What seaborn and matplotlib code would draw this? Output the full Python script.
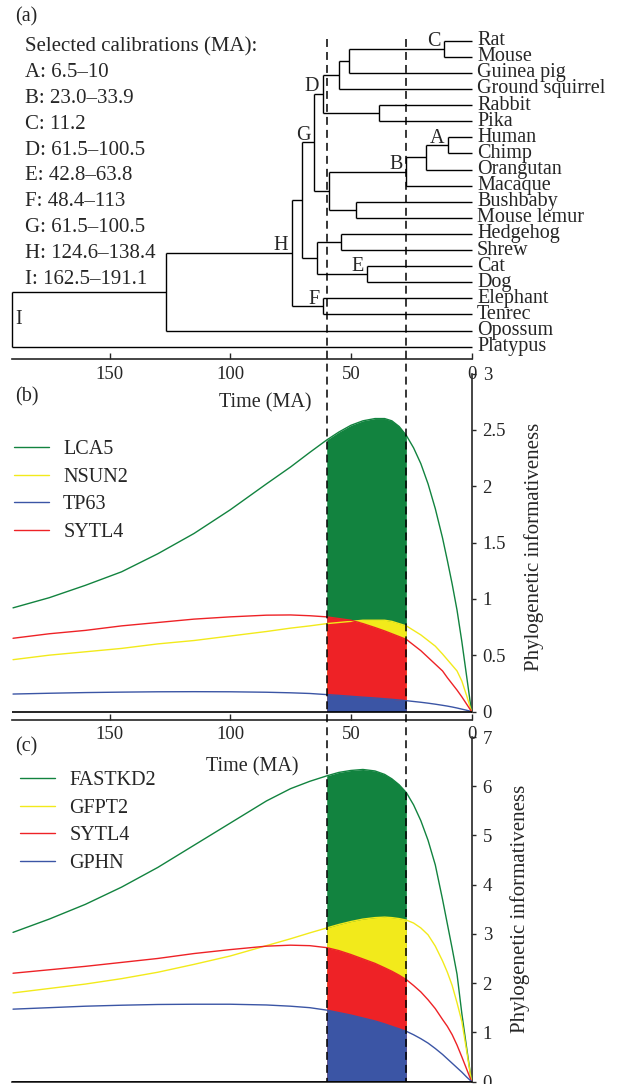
import numpy as np
import pandas as pd
import matplotlib
matplotlib.use("Agg")
import matplotlib.pyplot as plt
from matplotlib.lines import Line2D
from matplotlib.ticker import FuncFormatter
import seaborn as sns

# ---------------- data ----------------
taxa = ["Rat", "Mouse", "Guinea pig", "Ground squirrel", "Rabbit", "Pika",
        "Human", "Chimp", "Orangutan", "Macaque", "Bushbaby", "Mouse lemur",
        "Hedgehog", "Shrew", "Cat", "Dog", "Elephant", "Tenrec", "Opossum", "Platypus"]

node_names = ["RM", "RMG", "Rod", "Lag", "Gli", "HC", "HCO", "Catar", "Strep", "Prim",
              "Euarch", "Eulip", "Carn", "Laur", "Boreo", "Afro", "Euth", "Ther", "Root"]
node_left = ["Rat", "RM", "RMG", "Rabbit", "Rod", "Human", "HC", "HCO", "Bushbaby", "Catar",
             "Gli", "Hedgehog", "Cat", "Eulip", "Euarch", "Elephant", "Boreo", "Euth", "Ther"]
node_right = ["Mouse", "Guinea pig", "Ground squirrel", "Pika", "Lag", "Chimp", "Orangutan",
              "Macaque", "Mouse lemur", "Strep", "Prim", "Shrew", "Dog", "Carn", "Laur",
              "Tenrec", "Afro", "Opossum", "Platypus"]
node_ages = [11.4, 50.8, 54.8, 38.3, 61.7, 9.9, 18.9, 27.1, 48.0, 58.9,
             65.1, 54.2, 43.2, 63.9, 70.4, 61.4, 74.5, 126.7, 190.3]
node_labels = ["C", "", "", "", "D", "A", "", "B", "", "",
               "G", "", "E", "", "", "F", "H", "", "I"]

calibrations = ["Selected calibrations (MA):", "A: 6.5–10", "B: 23.0–33.9", "C: 11.2",
                "D: 61.5–100.5", "E: 42.8–63.8", "F: 48.4–113", "G: 61.5–100.5",
                "H: 124.6–138.4", "I: 162.5–191.1"]

ma = [190, 175, 160, 145, 130, 115, 100, 85, 75, 67, 60, 55, 50, 45, 40, 36, 33, 30,
      27, 24, 21, 18, 15, 12, 10, 8, 6, 4, 2, 0]

genes_b = ["LCA5", "NSUN2", "TP63", "SYTL4"]
lca5 = [0.92, 1.01, 1.12, 1.24, 1.40, 1.58, 1.79, 2.02, 2.17, 2.30, 2.41, 2.48, 2.54, 2.58,
        2.60, 2.60, 2.58, 2.53, 2.45, 2.34, 2.20, 2.02, 1.80, 1.54, 1.34, 1.13, 0.90, 0.62, 0.31, 0.0]
nsun2 = [0.46, 0.50, 0.53, 0.56, 0.60, 0.63, 0.67, 0.71, 0.74, 0.76, 0.78, 0.79, 0.80, 0.81,
         0.81, 0.81, 0.80, 0.78, 0.76, 0.72, 0.68, 0.63, 0.58, 0.51, 0.46, 0.41, 0.36, 0.27, 0.14, 0.0]
tp63 = [0.155, 0.162, 0.168, 0.172, 0.175, 0.176, 0.175, 0.171, 0.166, 0.160, 0.150, 0.143,
        0.135, 0.127, 0.120, 0.113, 0.108, 0.102, 0.096, 0.089, 0.082, 0.074, 0.065, 0.055,
        0.048, 0.040, 0.031, 0.021, 0.011, 0.0]
sytl4_b = [0.65, 0.69, 0.72, 0.76, 0.79, 0.82, 0.84, 0.855, 0.857, 0.85, 0.84, 0.825, 0.81,
           0.78, 0.745, 0.715, 0.69, 0.665, 0.64, 0.59, 0.54, 0.48, 0.42, 0.36, 0.30, 0.245,
           0.19, 0.13, 0.065, 0.0]

genes_c = ["FASTKD2", "GFPT2", "SYTL4", "GPHN"]
fastkd2 = [3.03, 3.30, 3.60, 3.95, 4.35, 4.80, 5.25, 5.70, 5.95, 6.10, 6.21, 6.28, 6.32, 6.34,
           6.31, 6.24, 6.15, 6.03, 5.87, 5.62, 5.30, 4.90, 4.40, 3.70, 3.20, 2.70, 2.18, 1.38, 0.68, 0.0]
gfpt2 = [1.80, 1.89, 1.98, 2.09, 2.22, 2.38, 2.55, 2.76, 2.90, 3.02, 3.12, 3.19, 3.25, 3.30,
         3.33, 3.34, 3.33, 3.31, 3.28, 3.22, 3.12, 2.98, 2.75, 2.45, 2.22, 1.95, 1.60, 1.22, 0.62, 0.0]
sytl4_c = [2.20, 2.27, 2.34, 2.42, 2.50, 2.60, 2.68, 2.75, 2.77, 2.76, 2.72, 2.66, 2.58, 2.49,
           2.40, 2.31, 2.24, 2.16, 2.07, 1.95, 1.82, 1.66, 1.48, 1.26, 1.12, 0.95, 0.74, 0.50, 0.25, 0.0]
gphn = [1.47, 1.50, 1.53, 1.55, 1.565, 1.57, 1.57, 1.555, 1.53, 1.50, 1.45, 1.40, 1.35, 1.29,
        1.23, 1.17, 1.12, 1.07, 1.02, 0.95, 0.87, 0.78, 0.67, 0.55, 0.46, 0.37, 0.28, 0.19, 0.09, 0.0]

window = [60, 27]
xticks = [150, 100, 50, 0]
yticks_b = [0, 0.5, 1, 1.5, 2, 2.5, 3]
yticks_c = [0, 1, 2, 3, 4, 5, 6, 7]

GREEN, YELLOW, RED, BLUE = "#12833F", "#F2EA1B", "#EE2226", "#3B55A5"
colors_b = [GREEN, YELLOW, BLUE, RED]
colors_c = [GREEN, YELLOW, RED, BLUE]

# ---------------- style ----------------
sns.set_style("ticks")
plt.rcParams["font.family"] = ["Liberation Serif", "DejaVu Serif"]
plt.rcParams["axes.linewidth"] = 1.2

W, H = 625, 1084
fig = plt.figure(figsize=(W / 100, H / 100), dpi=100)


def rect(l, t, r, b):
    return [l / W, 1 - b / H, (r - l) / W, (b - t) / H]


XL, XR = 12.3, 471.5
XMAX = 190.3
FS = 14.5

axA = fig.add_axes(rect(XL, 0, XR, 359.3), zorder=3)
axB = fig.add_axes(rect(XL, 373.5, XR, 720), zorder=2)
axC = fig.add_axes(rect(XL, 737, XR, 1081.5), zorder=1)
for ax in (axA, axB, axC):
    ax.patch.set_alpha(0)
axO = fig.add_axes(rect(XL, 0, XR, H), zorder=10)
axO.patch.set_alpha(0)
axO.axis("off")
axO.set_xlim(XMAX, 0)
axO.set_ylim(H, 0)

# ---------------- panel a: tree ----------------
ypos = {t: i for i, t in enumerate(taxa)}
age = {t: 0.0 for t in taxa}
for n, l, r, a in zip(node_names, node_left, node_right, node_ages):
    ypos[n] = (ypos[l] + ypos[r]) / 2
    age[n] = a
tree_kw = dict(color="black", lw=1.0, solid_capstyle="butt")
for n, l, r, lab in zip(node_names, node_left, node_right, node_labels):
    a = age[n]
    axA.plot([a, a], [ypos[l], ypos[r]], clip_on=False, **tree_kw)
    for c in (l, r):
        axA.plot([a, age[c]], [ypos[c], ypos[c]], clip_on=False, **tree_kw)
    if lab == "I":
        axA.annotate(lab, (a, ypos[n]), xytext=(2, 0), textcoords="offset points",
                     ha="left", va="center", fontsize=FS, annotation_clip=False)
    elif lab:
        axA.annotate(lab, (a, ypos[n]), xytext=(-2.5, 2), textcoords="offset points",
                     ha="right", va="baseline", fontsize=FS, annotation_clip=False)
for t in taxa:
    axA.annotate(t, (0, ypos[t]), xytext=(4, 0), textcoords="offset points",
                 ha="left", va="center", fontsize=FS, annotation_clip=False)

axA.set_xlim(XMAX, 0)
axA.set_ylim((359.3 - 40.7) / 16.1, -40.7 / 16.1)
axA.set_yticks([])
for s in ("left", "top", "right"):
    axA.spines[s].set_visible(False)
axA.set_xticks(xticks)
axA.set_xticklabels([str(v) for v in xticks])
axA.tick_params(axis="x", direction="in", length=4, width=1, pad=4.5, labelsize=13.5)
axA.set_xlabel("Time (MA)", fontsize=FS)
axA.xaxis.set_label_coords((265 - XL) / (XR - XL), (359.3 - 403) / 359.3)
axA.xaxis.label.set_va("center")

for i, txt in enumerate(calibrations):
    fig.text(25 / W, 1 - (46.7 + 25.85 * i) / H, txt, fontsize=15, va="center", ha="left")
fig.text(15 / W, 1 - 16.7 / H, "(a)", fontsize=FS, va="center", ha="left")
fig.text(15 / W, 1 - 397 / H, "(b)", fontsize=FS, va="center", ha="left")
fig.text(15 / W, 1 - 747 / H, "(c)", fontsize=FS, va="center", ha="left")


# ---------------- panels b and c ----------------
def pi_panel(ax, genes, series, colors, ylim, yticks, leg_xy, show_x, ylab_x):
    df = pd.DataFrame({
        "MA": ma * len(genes),
        "PI": sum(series, []),
        "gene": sum([[g] * len(ma) for g in genes], []),
    })
    pal = dict(zip(genes, colors))
    sns.lineplot(data=df, x="MA", y="PI", hue="gene", hue_order=genes, palette=pal,
                 ax=ax, legend=False, linewidth=1.0, errorbar=None, zorder=3)
    mav = np.array(ma, dtype=float)
    sel = (mav <= max(window)) & (mav >= min(window))
    means = [np.mean(np.array(s)[sel]) for s in series]
    for k in np.argsort(means)[::-1]:
        ax.fill_between(mav[sel], 0, np.array(series[k])[sel], color=colors[k], lw=0, zorder=2)
    ax.axhline(0, color="black", lw=1.2, zorder=4)
    ax.set_xlim(XMAX, 0)
    ax.set_ylim(*ylim)
    ax.spines["left"].set_visible(False)
    ax.spines["top"].set_visible(False)
    ax.spines["right"].set_bounds(0, max(yticks))
    ax.yaxis.tick_right()
    ax.yaxis.set_label_position("right")
    ax.set_yticks(yticks)
    ax.yaxis.set_major_formatter(FuncFormatter(lambda v, _: f"{v:g}"))
    ax.tick_params(axis="y", direction="out", length=3, width=1, pad=5, labelsize=13.5)
    ax.set_ylabel("Phylogenetic informativeness", fontsize=15)
    ax.yaxis.set_label_coords(ylab_x, 0.5)
    ax.yaxis.label.set_va("center")
    ax.yaxis.label.set_ha("center")
    if show_x:
        ax.set_xticks(xticks)
        ax.set_xticklabels([str(v) for v in xticks])
        ax.tick_params(axis="x", direction="in", length=4, width=1, pad=4.5, labelsize=13.5)
    else:
        ax.set_xticks([])
    handles = [Line2D([], [], color=c, lw=1.0) for c in colors]
    ax.legend(handles, genes, loc="upper left", bbox_to_anchor=(leg_xy[0] / W, 1 - leg_xy[1] / H),
              bbox_transform=fig.transFigure, frameon=False, borderpad=0, borderaxespad=0,
              handlelength=1.74, handletextpad=0.7, labelspacing=0.42, fontsize=FS)


pi_panel(axB, genes_b, [lca5, nsun2, tp63, sytl4_b], colors_b, (-0.0754, 3),
         yticks_b, (14, 440), True, (534 - XL) / (XR - XL))
axB.set_xlabel("Time (MA)", fontsize=FS)
axB.xaxis.set_label_coords((252 - XL) / (XR - XL), (720 - 767) / 346.5)
axB.xaxis.label.set_va("center")

pi_panel(axC, genes_c, [fastkd2, gfpt2, sytl4_c, gphn], colors_c, (0, 7),
         yticks_c, (20, 771), False, (520 - XL) / (XR - XL))
axC.set_xlabel("")

# dashed window lines spanning all panels
axO.vlines(window, 39, 1081.5, colors="black", linestyles=(0, (5.2, 3.3)), lw=1.1)

fig.savefig("out.png", dpi=100)
